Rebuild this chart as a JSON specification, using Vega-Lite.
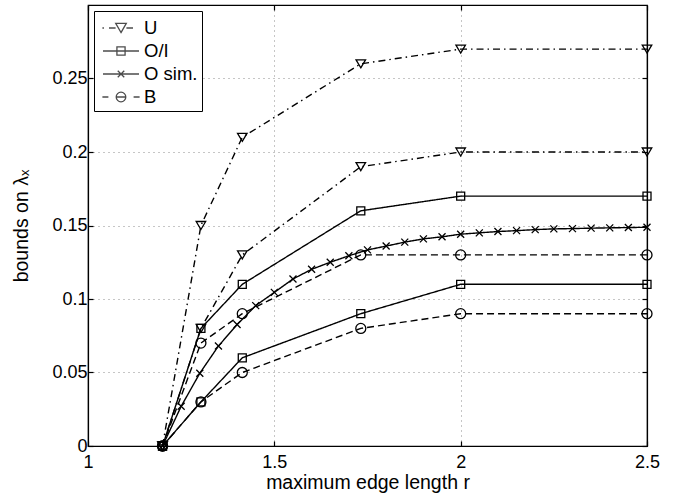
{
  "$schema": "https://vega.github.io/schema/vega-lite/v6.json",
  "width": 559,
  "height": 441,
  "autosize": {"type": "none"},
  "padding": {"left": 88, "top": 5, "right": 34, "bottom": 47},
  "background": "white",
  "config": {
    "font": "Liberation Sans",
    "view": {"stroke": "black", "strokeWidth": 1.2},
    "axis": {
      "domainColor": "black",
      "domainWidth": 1.2,
      "tickColor": "black",
      "tickWidth": 1.2,
      "labelColor": "black",
      "labelFont": "Liberation Sans",
      "labelFontSize": 18,
      "labelFlush": false,
      "labelOverlap": false,
      "titleColor": "black",
      "titleFont": "Liberation Sans",
      "titleFontSize": 19.5,
      "titleFontWeight": "normal",
      "gridColor": "#8c8c8c",
      "gridDash": [1, 4],
      "gridWidth": 1
    }
  },
  "data": {
    "values": [
      {"s": "U", "g": "U1", "x": 1.2, "y": 0},
      {"s": "U", "g": "U1", "x": 1.303, "y": 0.15},
      {"s": "U", "g": "U1", "x": 1.414, "y": 0.21},
      {"s": "U", "g": "U1", "x": 1.732, "y": 0.26},
      {"s": "U", "g": "U1", "x": 2.0, "y": 0.27},
      {"s": "U", "g": "U1", "x": 2.5, "y": 0.27},
      {"s": "U", "g": "U2", "x": 1.2, "y": 0},
      {"s": "U", "g": "U2", "x": 1.303, "y": 0.08},
      {"s": "U", "g": "U2", "x": 1.414, "y": 0.13},
      {"s": "U", "g": "U2", "x": 1.732, "y": 0.19},
      {"s": "U", "g": "U2", "x": 2.0, "y": 0.2},
      {"s": "U", "g": "U2", "x": 2.5, "y": 0.2},
      {"s": "O/I", "g": "O1", "x": 1.2, "y": 0},
      {"s": "O/I", "g": "O1", "x": 1.303, "y": 0.08},
      {"s": "O/I", "g": "O1", "x": 1.414, "y": 0.11},
      {"s": "O/I", "g": "O1", "x": 1.732, "y": 0.16},
      {"s": "O/I", "g": "O1", "x": 2.0, "y": 0.17},
      {"s": "O/I", "g": "O1", "x": 2.5, "y": 0.17},
      {"s": "O/I", "g": "O2", "x": 1.2, "y": 0},
      {"s": "O/I", "g": "O2", "x": 1.303, "y": 0.03},
      {"s": "O/I", "g": "O2", "x": 1.414, "y": 0.06},
      {"s": "O/I", "g": "O2", "x": 1.732, "y": 0.09},
      {"s": "O/I", "g": "O2", "x": 2.0, "y": 0.11},
      {"s": "O/I", "g": "O2", "x": 2.5, "y": 0.11},
      {"s": "O sim.", "g": "S", "x": 1.2, "y": 0},
      {"s": "O sim.", "g": "S", "x": 1.25, "y": 0.027},
      {"s": "O sim.", "g": "S", "x": 1.3, "y": 0.0495},
      {"s": "O sim.", "g": "S", "x": 1.35, "y": 0.068},
      {"s": "O sim.", "g": "S", "x": 1.4, "y": 0.0826},
      {"s": "O sim.", "g": "S", "x": 1.45, "y": 0.0955},
      {"s": "O sim.", "g": "S", "x": 1.5, "y": 0.1045},
      {"s": "O sim.", "g": "S", "x": 1.55, "y": 0.1136},
      {"s": "O sim.", "g": "S", "x": 1.6, "y": 0.1202},
      {"s": "O sim.", "g": "S", "x": 1.65, "y": 0.125},
      {"s": "O sim.", "g": "S", "x": 1.7, "y": 0.1294},
      {"s": "O sim.", "g": "S", "x": 1.75, "y": 0.1334},
      {"s": "O sim.", "g": "S", "x": 1.8, "y": 0.136},
      {"s": "O sim.", "g": "S", "x": 1.85, "y": 0.1387},
      {"s": "O sim.", "g": "S", "x": 1.9, "y": 0.1409},
      {"s": "O sim.", "g": "S", "x": 1.95, "y": 0.1423},
      {"s": "O sim.", "g": "S", "x": 2.0, "y": 0.1441},
      {"s": "O sim.", "g": "S", "x": 2.05, "y": 0.145},
      {"s": "O sim.", "g": "S", "x": 2.1, "y": 0.1459},
      {"s": "O sim.", "g": "S", "x": 2.15, "y": 0.1465},
      {"s": "O sim.", "g": "S", "x": 2.2, "y": 0.1472},
      {"s": "O sim.", "g": "S", "x": 2.25, "y": 0.1477},
      {"s": "O sim.", "g": "S", "x": 2.3, "y": 0.1479},
      {"s": "O sim.", "g": "S", "x": 2.35, "y": 0.1482},
      {"s": "O sim.", "g": "S", "x": 2.4, "y": 0.1484},
      {"s": "O sim.", "g": "S", "x": 2.45, "y": 0.1486},
      {"s": "O sim.", "g": "S", "x": 2.5, "y": 0.1488},
      {"s": "B", "g": "B1", "x": 1.2, "y": 0},
      {"s": "B", "g": "B1", "x": 1.303, "y": 0.07},
      {"s": "B", "g": "B1", "x": 1.414, "y": 0.09},
      {"s": "B", "g": "B1", "x": 1.732, "y": 0.13},
      {"s": "B", "g": "B1", "x": 2.0, "y": 0.13},
      {"s": "B", "g": "B1", "x": 2.5, "y": 0.13},
      {"s": "B", "g": "B2", "x": 1.2, "y": 0},
      {"s": "B", "g": "B2", "x": 1.303, "y": 0.03},
      {"s": "B", "g": "B2", "x": 1.414, "y": 0.05},
      {"s": "B", "g": "B2", "x": 1.732, "y": 0.08},
      {"s": "B", "g": "B2", "x": 2.0, "y": 0.09},
      {"s": "B", "g": "B2", "x": 2.5, "y": 0.09}
    ]
  },
  "layer": [
    {
      "mark": {"type": "line", "color": "black", "strokeWidth": 1.4},
      "encoding": {
        "x": {
          "field": "x", "type": "quantitative",
          "scale": {"domain": [1, 2.5], "nice": false, "zero": false},
          "axis": {"orient": "top", "values": [1, 1.5, 2, 2.5], "labels": false, "title": null, "grid": false, "tickSize": -5}
        },
        "y": {
          "field": "y", "type": "quantitative",
          "scale": {"domain": [0, 0.3], "nice": false, "zero": false},
          "axis": {"orient": "right", "values": [0, 0.05, 0.1, 0.15, 0.2, 0.25], "labels": false, "title": null, "grid": false, "tickSize": -5}
        },
        "detail": {"field": "g", "type": "nominal"},
        "strokeDash": {
          "field": "s", "type": "nominal",
          "scale": {"domain": ["U", "O/I", "O sim.", "B"], "range": [[7, 4, 1.5, 4], [1, 0], [1, 0], [7, 4]]},
          "legend": null
        }
      }
    },
    {
      "mark": {"type": "point", "filled": false, "stroke": "black", "strokeWidth": 1.3, "size": 100, "opacity": 1},
      "encoding": {
        "x": {
          "field": "x", "type": "quantitative",
          "axis": {"orient": "bottom", "values": [1, 1.5, 2, 2.5], "format": "~g", "grid": true, "tickSize": -5, "labelPadding": 12, "title": "maximum edge length r", "titlePadding": 2}
        },
        "y": {
          "field": "y", "type": "quantitative",
          "axis": {"orient": "left", "values": [0, 0.05, 0.1, 0.15, 0.2, 0.25], "format": "~g", "grid": true, "tickSize": -5, "labelPadding": 6, "title": "bounds on λₓ", "titlePadding": 20}
        },
        "shape": {
          "field": "s", "type": "nominal",
          "scale": {
            "domain": ["U", "O/I", "O sim.", "B"],
            "range": ["M0,0.8L0.95,-0.8L-0.95,-0.8Z", "M-0.8,-0.8H0.8V0.8H-0.8Z", "M-0.7,-0.7L0.7,0.7M-0.7,0.7L0.7,-0.7", "circle"]
          },
          "legend": null
        }
      }
    },
    {
      "data": {"values": [{"s": "U"}, {"s": "O/I"}, {"s": "O sim."}, {"s": "B"}]},
      "mark": {"type": "point", "filled": false, "stroke": "black", "strokeWidth": 1.3, "size": 0},
      "encoding": {
        "shape": {
          "field": "s", "type": "nominal",
          "scale": {
            "domain": ["U", "O/I", "O sim.", "B"],
            "range": [
              "M-1.55,0H-1.42M-1,0H-0.45M0.45,0H1M0,0.38L0.44,-0.38L-0.44,-0.38Z",
              "M-1.5,0H1.5M-0.34,-0.34H0.34V0.34H-0.34Z",
              "M-1.5,0H1.5M-0.27,-0.27L0.27,0.27M-0.27,0.27L0.27,-0.27",
              "M-1.55,0H-1.05M1.05,0H1.55M-0.4,0H0.4M-0.4,0A0.4,0.4 0 1,0 0.4,0A0.4,0.4 0 1,0 -0.4,0"
            ]
          },
          "legend": {
            "title": null,
            "orient": "top-left",
            "offset": 6,
            "padding": 4,
            "rowPadding": 0,
            "symbolSize": 576,
            "symbolStrokeWidth": 1.3,
            "symbolStrokeColor": "black",
            "symbolOffset": 10,
            "labelOffset": 10,
            "labelFont": "Liberation Sans",
            "labelFontSize": 18.5,
            "labelColor": "black",
            "strokeColor": "black",
            "fillColor": "white",
            "cornerRadius": 0
          }
        }
      }
    }
  ],
  "resolve": {"scale": {"shape": "independent"}, "legend": {"shape": "independent"}}
}
